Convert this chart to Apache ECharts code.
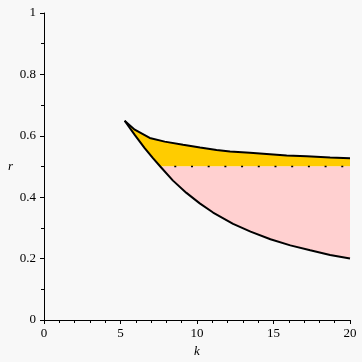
<!DOCTYPE html>
<html>
<head>
<meta charset="utf-8">
<script src="https://cdn.jsdelivr.net/npm/echarts@6/dist/echarts.min.js"></script>
<style>
html,body{margin:0;padding:0;background:#f8f8f8;}
#chart{width:362px;height:362px;}
</style>
</head>
<body>
<div id="chart"></div>
<script>
// upper boundary curve
var upperK = [5.27, 5.93, 6.91, 7.89, 9.09, 10.2, 11.28, 12.16, 13.46, 14.55, 15.86, 17.17, 18.7, 20];
var upperR = [0.649, 0.62, 0.593, 0.581, 0.571, 0.562, 0.554, 0.549, 0.545, 0.541, 0.536, 0.533, 0.529, 0.527];
// lower boundary curve
var lowerK = [5.27, 5.93, 6.58, 7.12, 7.6, 8.43, 9.31, 10.18, 11.05, 12.36, 13.5, 14.8, 16.1, 17.4, 18.7, 20];
var lowerR = [0.649, 0.603, 0.56, 0.527, 0.5, 0.454, 0.414, 0.38, 0.35, 0.313, 0.288, 0.263, 0.243, 0.227, 0.212, 0.2];
var levelR = 0.5;
var xTicks = [0, 5, 10, 15, 20];
var yTicks = [0, 0.2, 0.4, 0.6, 0.8, 1];

function pairs(ks, rs){
	var out = [];
	for(var i = 0; i < ks.length; i++) out.push([ks[i], rs[i]]);
	return out;
}

var upperPts = pairs(upperK, upperR);
var lowerPts = pairs(lowerK, lowerR);
var crossK = lowerK[lowerR.indexOf(levelR)];
var lastK = upperK[upperK.length - 1];

// gold: between upper curve and max(lower, level)
var goldPoly = upperPts.concat([[lastK, levelR]]);
lowerPts.filter(function(p){ return p[1] >= levelR; }).reverse().forEach(function(p){ goldPoly.push(p); });
// pink: between level and lower curve
var pinkPoly = [[crossK, levelR], [lastK, levelR]];
lowerPts.filter(function(p){ return p[1] <= levelR; }).reverse().forEach(function(p){ pinkPoly.push(p); });

var regions = [goldPoly, pinkPoly];
var regionColors = ['#ffcc00', '#ffd0d0'];

var txt = {color:'#000', fontFamily:'Liberation Serif', fontSize:13};

var chart = echarts.init(document.getElementById('chart'));
var option = {
	backgroundColor:'#f8f8f8',
	animation:false,
	grid:{left:44, top:13, width:306, height:307, outerBoundsMode:'none', containLabel:false},
	xAxis:{
		type:'value', min:0, max:20, interval:5,
		name:'k', nameLocation:'middle', nameGap:25,
		nameTextStyle:{color:'#000', fontFamily:'Liberation Serif', fontSize:13, fontStyle:'italic'},
		axisLine:{show:true, onZero:false, lineStyle:{color:'#000', width:1}},
		axisTick:{show:true, length:4, lineStyle:{color:'#000'}},
		minorTick:{show:true, splitNumber:5, length:3, lineStyle:{color:'#000'}},
		splitLine:{show:false},
		axisLabel:Object.assign({margin:7, formatter:function(v){ return xTicks.indexOf(v) >= 0 ? String(v) : ''; }}, txt),
		z:5
	},
	yAxis:{
		type:'value', min:0, max:1, interval:0.2,
		name:'r', nameLocation:'middle', nameGap:31, nameRotate:0,
		nameTextStyle:{color:'#000', fontFamily:'Liberation Serif', fontSize:13, fontStyle:'italic'},
		axisLine:{show:true, onZero:false, lineStyle:{color:'#000', width:1}},
		axisTick:{show:true, length:4, lineStyle:{color:'#000'}},
		minorTick:{show:true, splitNumber:2, length:3, lineStyle:{color:'#000'}},
		splitLine:{show:false},
		axisLabel:Object.assign({margin:8, formatter:function(v){
			for(var i = 0; i < yTicks.length; i++) if(Math.abs(yTicks[i] - v) < 1e-9) return String(yTicks[i]);
			return '';
		}}, txt),
		z:5
	},
	series:[
		{
			type:'custom',
			data:[0, 1],
			renderItem:function(params, api){
				var idx = params.dataIndex;
				var pts = regions[idx].map(function(p){ return api.coord(p); });
				return {type:'polygon', shape:{points:pts}, style:{fill:regionColors[idx], stroke:'none'}};
			},
			z:1
		},
		{
			type:'line', data:[[crossK, levelR], [lastK, levelR]], symbol:'none',
			lineStyle:{color:'#000', width:1.5, type:[2, 14.7], dashOffset:2.7}, z:3
		},
		{
			type:'line', data:upperPts, symbol:'none',
			lineStyle:{color:'#000', width:2}, z:4
		},
		{
			type:'line', data:lowerPts, symbol:'none',
			lineStyle:{color:'#000', width:2}, z:4
		}
	]
};
chart.setOption(option);
</script>
</body>
</html>
